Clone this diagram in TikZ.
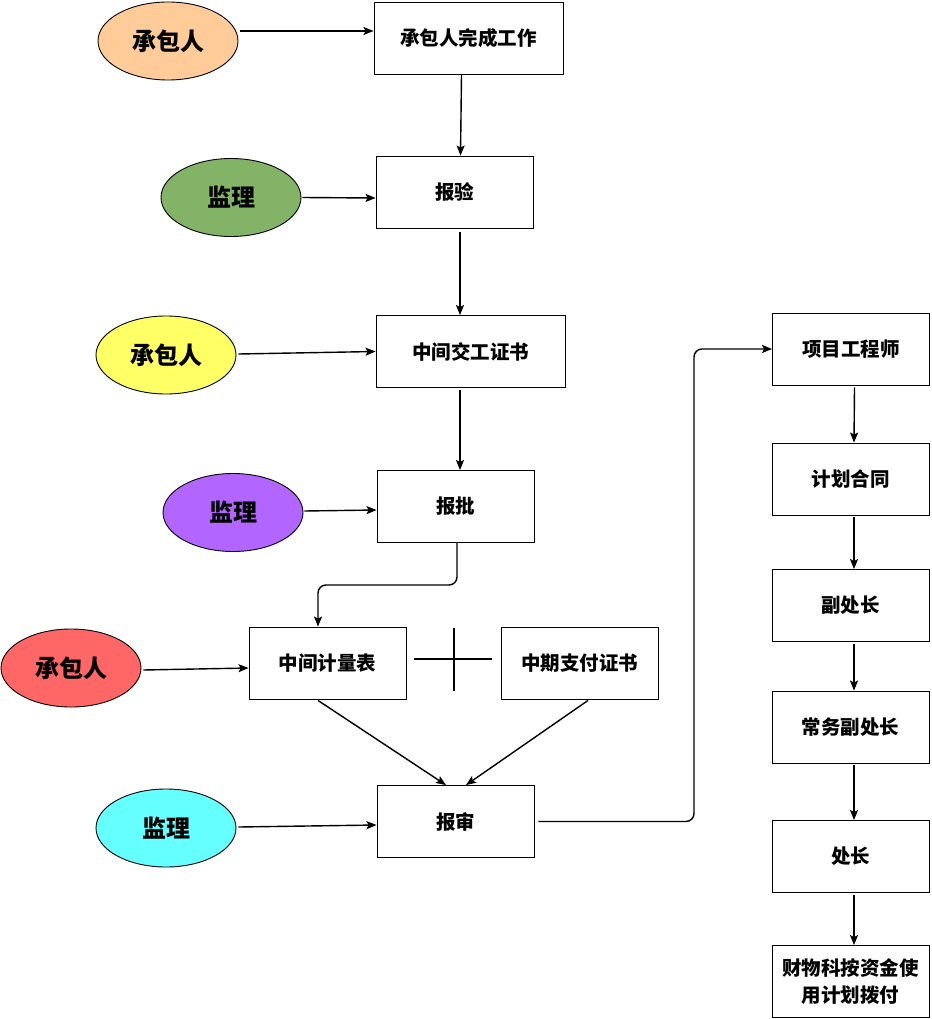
\documentclass[tikz,border=0pt]{standalone}
\usepackage{fontspec}
\newfontfamily\cjk{Noto Sans CJK SC}
\usetikzlibrary{arrows.meta,shapes.geometric}
\definecolor{peach}{HTML}{FFCC99}
\definecolor{leaf}{HTML}{82B366}
\definecolor{lemon}{HTML}{FFFF66}
\definecolor{violet}{HTML}{B266FF}
\definecolor{coral}{HTML}{FF6666}
\definecolor{aqua}{HTML}{66FFFF}
\begin{document}
\begin{tikzpicture}[x = 1pt, y = -1pt, > = {Stealth[length = 10pt, width = 8pt, inset = 2pt]},
	stepbox/.style = {draw, line width = 0.9pt, minimum width = 157pt, minimum height = 72pt, inner sep = 0pt, align = center, font = \cjk\bfseries\fontsize{19.5}{27}\selectfont},
	party/.style = {draw, ellipse, line width = 0.9pt, minimum width = 140pt, minimum height = 78pt, inner sep = 0pt, font = \cjk\bfseries\fontsize{24}{28}\selectfont},
	flow/.style = {->, line width = 1.4pt}]

	\useasboundingbox (0, 0) rectangle (931, 1019);

	% Left column w/parties

	\node [stepbox, minimum width = 189pt] (work) at (468.5, 38) {承包人完成工作};
	\node [stepbox] (check) at (454.5, 192) {报验};
	\node [stepbox, minimum width = 189pt] (cert) at (470.5, 351.5) {中间交工证书};
	\node [stepbox] (approve) at (455.5, 506.5) {报批};
	\node [stepbox] (measure) at (327.5, 663) {中间计量表};
	\node [stepbox] (payment) at (579.5, 663) {中期支付证书};
	\node [stepbox] (review) at (455.5, 821.5) {报审};

	\node [party, fill = peach] (contractor-a) at (168, 41) {承包人};
	\node [party, fill = leaf] (supervisor-a) at (231, 197.5) {监理};
	\node [party, fill = lemon] (contractor-b) at (166, 355) {承包人};
	\node [party, fill = violet] (supervisor-b) at (233, 512.5) {监理};
	\node [party, fill = coral] (contractor-c) at (71, 668) {承包人};
	\node [party, fill = aqua] (supervisor-c) at (166, 828) {监理};

	\draw [flow] ([xshift = 2pt, yshift = 10pt] contractor-a.east) -- ([yshift = 7pt] work.west);
	\draw [flow] ([xshift = -7pt] work.south) -- ([xshift = 6pt] check.north);
	\draw [flow] ([xshift = 1pt] supervisor-a.east) -- ([yshift = -6pt] check.west);
	\draw [flow] ([xshift = 5.5pt, yshift = -4pt] check.south) -- ([xshift = -10.5pt] cert.north);
	\draw [flow] ([xshift = 2pt, yshift = 1pt] contractor-b.east) -- (cert.west);
	\draw [flow] ([xshift = -10.5pt, yshift = -2pt] cert.south) -- ([xshift = 4.5pt] approve.north);
	\draw [flow] ([xshift = 1pt, yshift = 1.5pt] supervisor-b.east) -- ([yshift = -3.5pt] approve.west);
	\coordinate (bend) at (0, 585);
	\draw [flow, rounded corners = 8pt] ([xshift = 1.5pt] approve.south) -- ([xshift = 1.5pt] approve.south |- bend) -| ([xshift = -9.5pt] measure.north);
	\draw [flow] ([xshift = 2pt, yshift = -2pt] contractor-c.east) -- ([yshift = -5pt] measure.west);
	\draw [flow] ([xshift = -9.5pt, yshift = -1pt] measure.south) -- ([xshift = -9.5pt] review.north);
	\draw [flow] ([xshift = 8.5pt, yshift = -1pt] payment.south) -- ([xshift = 10.5pt] review.north);
	\draw [flow] ([xshift = 2pt, yshift = 1pt] supervisor-c.east) -- ([yshift = -3.5pt] review.west);

	% Cross between the two forms

	\coordinate (plus) at (454, 659);
	\draw [line width = 1.4pt] ([xshift = -40pt] plus) -- ([xshift = 38pt] plus);
	\draw [line width = 1.4pt] ([yshift = 31pt] plus) -- ([yshift = -32pt] plus);

	% Right column w/sign-off chain

	\node [stepbox] (engineer) at (851, 349) {项目工程师};
	\node [stepbox] (plan) at (850.5, 479) {计划合同};
	\node [stepbox] (deputy) at (850.5, 605.5) {副处长};
	\node [stepbox] (exec) at (850.5, 727) {常务副处长};
	\node [stepbox] (chief) at (850.5, 856.5) {处长};
	\node [stepbox] (finance) at (850.5, 981.5) {财物科按资金使\\用计划拨付};

	\coordinate (riser) at (694, 0);
	\draw [flow, rounded corners = 8pt] ([xshift = 4pt] review.east) -- (review.east -| riser) -- (riser |- engineer.west) -- (engineer.west);
	\foreach \from/\to in {engineer/plan, plan/deputy, deputy/exec, exec/chief, chief/finance}
		\draw [flow] ([xshift = 3.5pt, yshift = -2pt] \from.south) -- ([xshift = 3.5pt] \to.north);

\end{tikzpicture}
\end{document}
